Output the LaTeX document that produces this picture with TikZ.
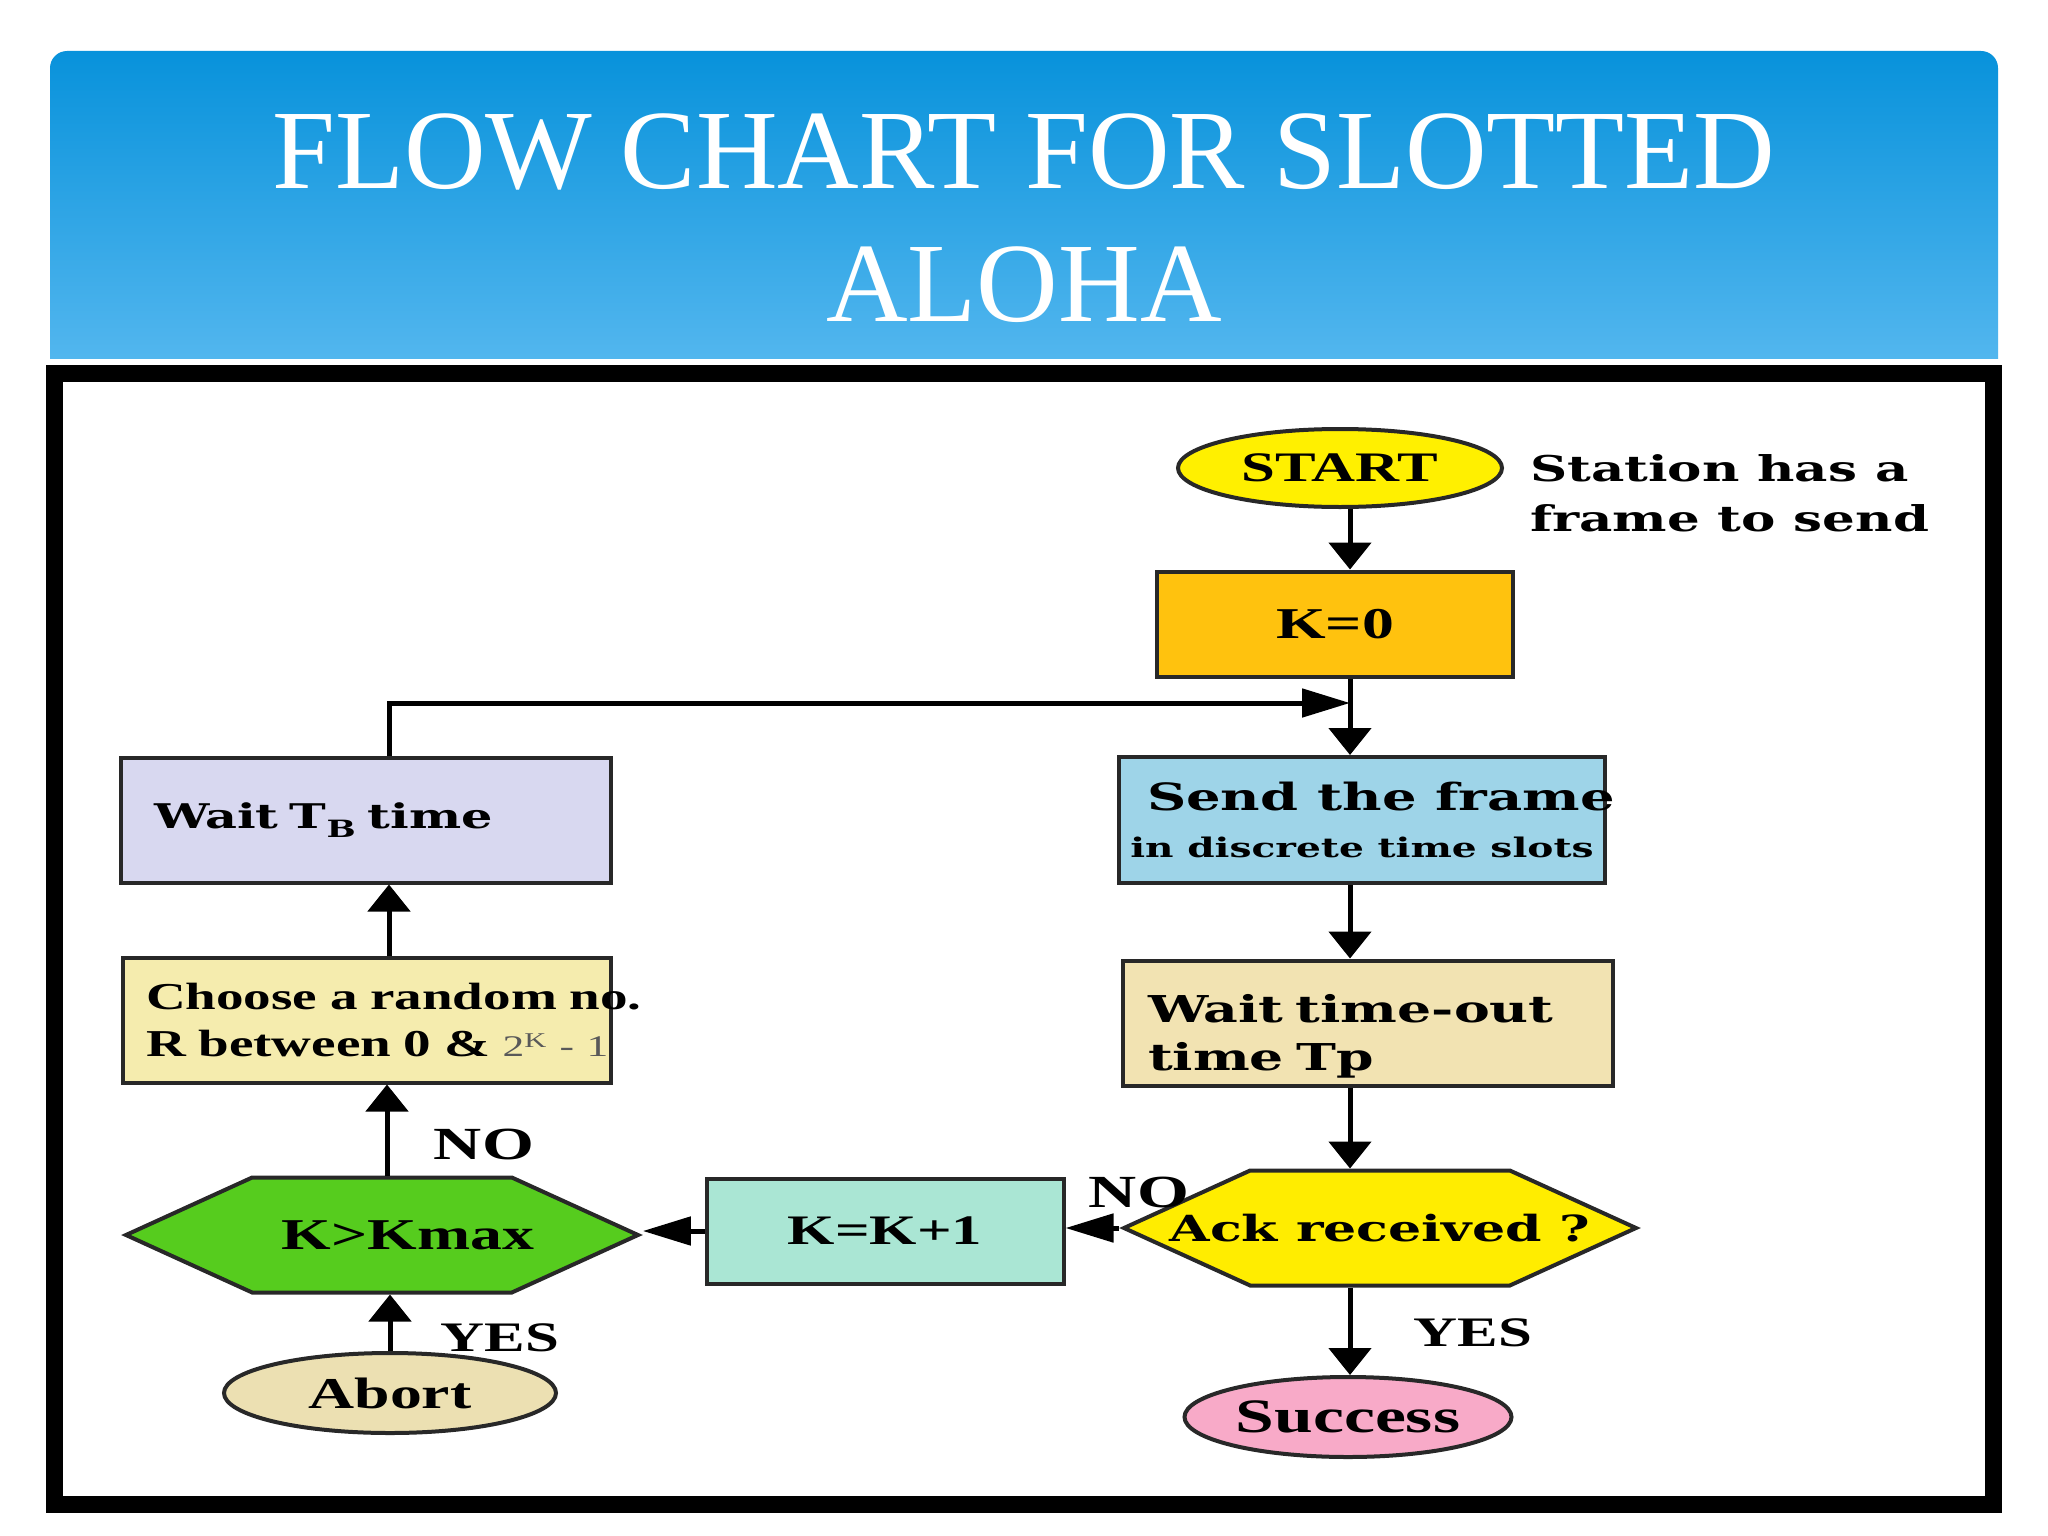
\documentclass[tikz,border=0pt]{standalone}
\usepackage{fontspec}
\setmainfont{Liberation Serif}
\newfontfamily\boxfont[FakeStretch=1.45]{DejaVu Serif}
\newfontfamily\tagfont[FakeStretch=1.45]{Liberation Serif}
\usetikzlibrary{arrows.meta,shapes.geometric,shapes.symbols}

\definecolor{titletop}{RGB}{8,146,219}
\definecolor{titlebot}{RGB}{92,187,241}
\definecolor{edge}{RGB}{40,40,40}
\definecolor{startyel}{RGB}{255,240,0}
\definecolor{kzero}{RGB}{255,194,14}
\definecolor{sendblue}{RGB}{158,212,232}
\definecolor{waitbeige}{RGB}{242,227,178}
\definecolor{ackyel}{RGB}{255,237,0}
\definecolor{succpink}{RGB}{248,170,200}
\definecolor{kincmint}{RGB}{170,230,212}
\definecolor{kmaxgreen}{RGB}{86,204,30}
\definecolor{abortbeige}{RGB}{236,224,178}
\definecolor{choosey}{RGB}{245,236,174}
\definecolor{waitlav}{RGB}{216,216,240}

\begin{document}
\begin{tikzpicture}[x=1pt,y=-1pt,
    proc/.style={rectangle,draw=edge,line width=4pt,inner sep=0pt},
    term/.style={ellipse,draw=edge,line width=4pt,inner sep=0pt},
    ask/.style={signal,signal to=west and east,signal pointer angle=49,draw=edge,line width=4pt,
                inner sep=0pt,minimum width=512pt,minimum height=115pt},
    vflow/.style={line width=5pt,-{Triangle[length=27pt,width=42pt]}},
    hflow/.style={line width=5pt,-{Triangle[length=48pt,width=28pt]}},
    tag/.style={inner sep=0pt,font=\tagfont\bfseries\fontsize{42}{42}\selectfont}]
    \useasboundingbox (0,0) rectangle (2048,1536);
    \fill[white] (0,0) rectangle (2048,1536);

    % title bar
    \begin{scope}
      \clip (0,0) rectangle (2048,358);
      \shade[top color=titletop,bottom color=titlebot,rounded corners=17pt] (50,51) rectangle (1998,400);
    \end{scope}
    \node[inner sep=0pt,text=white,align=center,font=\fontsize{113}{133}\selectfont] (title) at (1024,218)
      {FLOW CHART FOR SLOTTED\\ALOHA};
    \draw[line width=17pt] (54.5,373.5) rectangle (1993.5,1504.5);

    % right column
    \coordinate (col) at (1350,0);
    \coordinate (jn) at (1350,703);
    \node[term,fill=startyel,minimum width=324pt,minimum height=78pt,
          font=\tagfont\bfseries\fontsize{42}{42}\selectfont] (start) at (1340,468) {START};
    \node[anchor=north west,align=left,inner sep=0pt,
          font=\boxfont\bfseries\fontsize{35.5}{50}\selectfont] (note) at (1530,454) {Station has a\\frame to send};
    \node[proc,fill=kzero,minimum width=356pt,minimum height=105pt,
          font=\tagfont\bfseries\fontsize{44}{44}\selectfont] (k0) at (1335,624) {K=0};
    \node[proc,fill=sendblue,minimum width=486pt,minimum height=126pt,align=center,
          font=\boxfont\bfseries\fontsize{37.5}{47}\selectfont] (send) at (1362,820)
      {\makebox[0pt]{\hspace*{38pt}Send the frame}\\{\fontsize{27}{47}\selectfont in discrete time slots}};
    \node[proc,fill=waitbeige,minimum width=490pt,minimum height=125pt,text width=440pt,align=left,
          font=\boxfont\bfseries\fontsize{37}{48}\selectfont] (waitto) at (1368,1023)
      {\rule{0pt}{54pt}Wait time-out\\time Tp};
    \node[ask,fill=ackyel,font=\boxfont\bfseries\fontsize{36}{36}\selectfont] (ack) at (1380,1228)
      {\makebox[0pt]{Ack received ?}};
    \node[term,fill=succpink,minimum width=327pt,minimum height=80pt,
          font=\tagfont\bfseries\fontsize{48}{48}\selectfont] (succ) at (1348,1417) {Success};

    % left column
    \node[proc,fill=waitlav,minimum width=490pt,minimum height=125pt,text width=424pt,align=left,
          font=\boxfont\bfseries\fontsize{34}{40}\selectfont] (waittb) at (366,820) {Wait T\textsubscript{B} time};
    \node[proc,fill=choosey,minimum width=488pt,minimum height=125pt,text width=442pt,align=left,
          font=\tagfont\bfseries\fontsize{38}{47}\selectfont] (choose) at (367,1020)
      {\mbox{Choose a random no.}\\\mbox{R between 0 \& {\mdseries\color{black!65}\fontsize{30}{30}\selectfont 2\textsuperscript{K} - 1}}};
    \node[ask,fill=kmaxgreen,font=\tagfont\bfseries\fontsize{44}{44}\selectfont] (kmax) at (382,1235)
      {\makebox[0pt]{\hspace{52pt}K>Kmax}};
    \node[term,fill=abortbeige,minimum width=332pt,minimum height=80pt,
          font=\tagfont\bfseries\fontsize{44}{44}\selectfont] (abort) at (390,1393) {Abort};
    \node[proc,fill=kincmint,minimum width=357pt,minimum height=105pt,
          font=\tagfont\bfseries\fontsize{42}{42}\selectfont] (kinc) at (885,1231) {K=K+1};

    % connectors
    \draw[vflow] (start.south -| col) -- (k0.north -| col);
    \draw[vflow] (k0.south -| col) -- (send.north -| col);
    \draw[hflow] ([xshift=23pt]waittb.north) |- (jn);
    \draw[vflow] (send.south -| col) -- (waitto.north -| col);
    \draw[vflow] (waitto.south -| col) -- (ack.north -| col);
    \draw[vflow] (ack.south -| col) -- (succ.north -| col);
    \draw[hflow] (ack.west) -- (ack.west -| kinc.east);
    \draw[hflow] (kinc.west) -- (kinc.west -| kmax.east);
    \draw[vflow] ([xshift=5pt]kmax.north) -- ([xshift=5pt]kmax.north |- choose.south);
    \draw[vflow] ([xshift=22pt]choose.north) -- ([xshift=22pt]choose.north |- waittb.south);
    \draw[vflow] (abort.north) -- (abort.north |- kmax.south);

    % branch labels
    \node[tag,font=\tagfont\bfseries\fontsize{46}{46}\selectfont] (no1) at (484,1144) {NO};
    \node[tag] (yes1) at (500,1338) {YES};
    \node[tag,font=\tagfont\bfseries\fontsize{46}{46}\selectfont] (no2) at (1139,1192) {NO};
    \node[tag] (yes2) at (1473,1333) {YES};
\end{tikzpicture}
\end{document}
